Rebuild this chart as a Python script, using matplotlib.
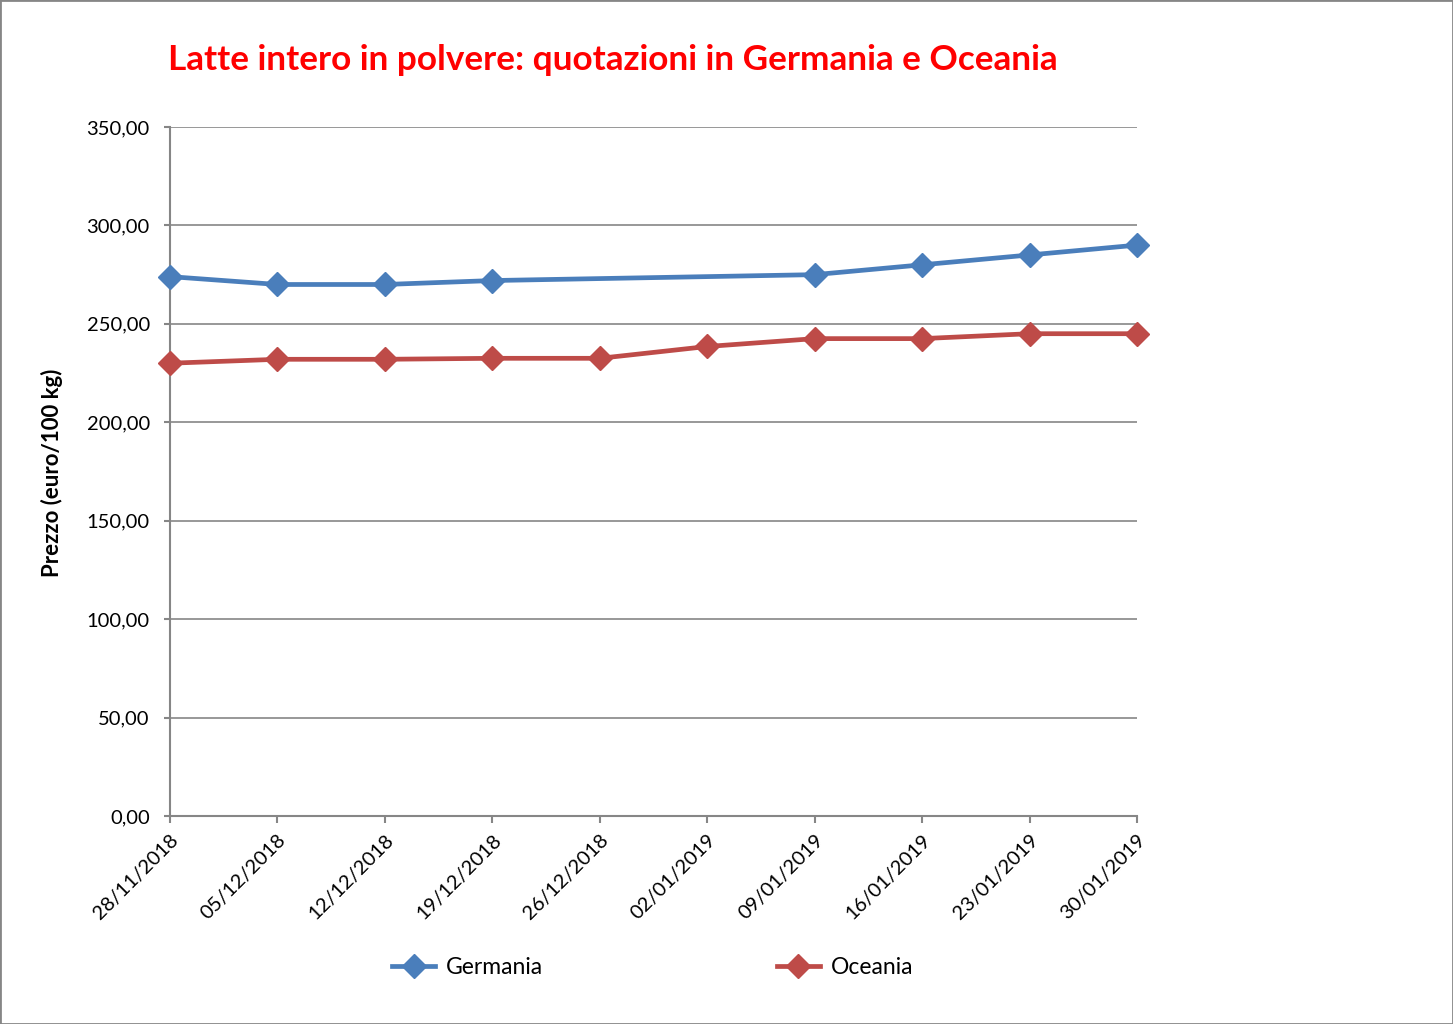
import numpy as np
import matplotlib
matplotlib.use("Agg")
import matplotlib.pyplot as plt
from matplotlib.patches import Rectangle

categories = ["28/11/2018", "05/12/2018", "12/12/2018", "19/12/2018", "26/12/2018",
              "02/01/2019", "09/01/2019", "16/01/2019", "23/01/2019", "30/01/2019"]
germania = [274.0, 270.0, 270.0, 272.0, np.nan, np.nan, 275.0, 280.0, 285.0, 290.0]
oceania = [230.0, 232.0, 232.0, 232.5, 232.5, 238.5, 242.5, 242.5, 245.0, 245.0]
y_ticks = [0, 50, 100, 150, 200, 250, 300, 350]
y_tick_labels = ["0,00", "50,00", "100,00", "150,00", "200,00", "250,00", "300,00", "350,00"]

title = "Latte intero in polvere: quotazioni in Germania e Oceania"
ylabel = "Prezzo (euro/100 kg)"

plt.rcParams['font.family'] = ['Lato', 'DejaVu Sans']

BLUE = "#4A7EBB"
RED = "#BE4B48"
GRID = "#868686"

fig = plt.figure(figsize=(14.53, 10.24), dpi=100)
ax = fig.add_axes([170/1453, 1-816/1024, (1137-170)/1453, (816-127)/1024])

x = np.arange(len(categories))
g = np.array(germania)
o = np.array(oceania)
gm = ~np.isnan(g)
om = ~np.isnan(o)

ax.plot(x[gm], g[gm], color=BLUE, lw=3.4, marker='D', markersize=12,
        label="Germania", zorder=3, clip_on=False)
ax.plot(x[om], o[om], color=RED, lw=3.4, marker='D', markersize=12,
        label="Oceania", zorder=3, clip_on=False)

ax.set_xlim(0, len(categories) - 1)
ax.set_ylim(0, 350)
ax.set_yticks(y_ticks)
ax.set_yticklabels(y_tick_labels, fontsize=14.5)
ax.set_xticks(x)
ax.set_xticklabels(categories, fontsize=14.5, rotation=45, ha='right', va='top',
                   rotation_mode='anchor')
ax.yaxis.grid(True, color=GRID, lw=1.2)
ax.set_axisbelow(True)
for s in ['top', 'right']:
    ax.spines[s].set_visible(False)
for s in ['left', 'bottom']:
    ax.spines[s].set_color(GRID)
    ax.spines[s].set_linewidth(1.5)
ax.tick_params(axis='y', direction='out', length=4.5, width=1.5, color=GRID, pad=10)
ax.tick_params(axis='x', direction='out', length=5, width=1.5, color=GRID, pad=6)

fig.text(168/1453, 1-60/1024, title, color='#FF0000', fontsize=25.3, fontweight='bold',
         ha='left', va='center')
fig.text(52/1453, 1-473/1024, ylabel, rotation=90, fontsize=16, fontweight='bold',
         ha='center', va='center')

fig.legend(loc='center', bbox_to_anchor=(653/1453, 1-968/1024), ncol=2, frameon=False,
           fontsize=16.5, handlelength=1.85, handletextpad=0.5, columnspacing=10.2)

fig.patches.append(Rectangle((0, 0), 1, 1, transform=fig.transFigure, fill=False,
                             edgecolor=GRID, lw=2))

fig.savefig("out.png", dpi=100)
